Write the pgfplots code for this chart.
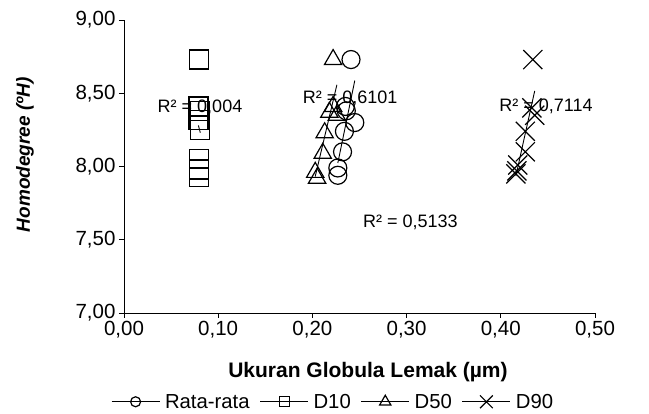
\documentclass[border=0pt]{standalone}
\usepackage{fontspec}
\setmainfont{Liberation Sans}
\usepackage{pgfplots}
\usepackage{pgfplotstable}
\pgfplotsset{compat=1.18}

\pgfplotsset{
  myleg/.style={legend image code/.code={%
    \draw[black, line width=0.9pt] (0pt,0pt) -- (48pt,0pt);
    \path[##1, mark size=#1] plot coordinates {(24pt,0pt)};}}
}

\pgfplotstableread{
x y
0.241 8.73
0.236 8.38
0.235 8.41
0.245 8.30
0.234 8.24
0.232 8.10
0.227 7.99
0.227 7.94
}\rata

\pgfplotstableread{
x y
0.080 8.73
0.079 8.41
0.081 8.38
0.079 8.32
0.081 8.25
0.080 8.05
0.080 7.98
0.080 7.93
}\dsepuluh

\pgfplotstableread{
x y
0.222 8.73
0.222 8.41
0.218 8.37
0.226 8.35
0.213 8.23
0.211 8.09
0.203 7.96
0.205 7.92
}\dlimapuluh

\pgfplotstableread{
x y
0.434 8.73
0.433 8.40
0.436 8.35
0.426 8.24
0.426 8.10
0.418 8.01
0.417 7.97
0.416 7.95
}\dsembilanpuluh

\newcommand{\fs}{\fontsize{18}{21}\selectfont}
\newcommand{\ft}{\fontsize{20.5}{24}\selectfont}
\newcommand{\fl}{\fontsize{21}{25}\selectfont}
\newcommand{\fg}{\fontsize{20.3}{24}\selectfont}
\newcommand{\fy}{\fontsize{19}{23}\selectfont}

\begin{document}
\begin{tikzpicture}
\begin{axis}[
  at={(0,0)}, anchor=south west,
  scale only axis,
  width=471pt, height=293pt,
  xmin=0, xmax=0.5, ymin=7, ymax=9,
  xtick={0,0.1,0.2,0.3,0.4,0.5},
  ytick={7,7.5,8,8.5,9},
  axis x line*=bottom, axis y line*=left,
  xtick pos=left, ytick pos=left,
  tick align=outside,
  major tick length=5pt,
  axis line style={black, line width=0.9pt},
  every tick/.style={black, line width=0.9pt},
  /pgf/number format/assume math mode=true,
  xticklabel style={font=\ft, /pgf/number format/.cd, fixed, fixed zerofill, precision=2, use comma},
  yticklabel style={font=\ft, /pgf/number format/.cd, fixed, fixed zerofill, precision=2, use comma},
  scaled x ticks=false, scaled y ticks=false,
  xlabel={\bfseries Ukuran Globula Lemak (µm)},
  xlabel style={font=\fl, at={(axis description cs:0.518,-0.201)}, anchor=center},
  ylabel={\bfseries\itshape Homodegree (ºH)},
  ylabel style={font=\fy, at={(axis description cs:-0.21,0.54)}, anchor=center},
  legend columns=4,
  legend style={draw=none, fill=none, font=\fg, at={(axis description cs:0.444,-0.303)}, anchor=center,
    /tikz/every odd column/.append style={column sep=3pt},
    /tikz/every even column/.append style={column sep=8pt}},
  legend cell align=left,
]
\addplot[only marks, mark=o, mark size=9pt, mark options={draw=black, fill=none, line width=1.2pt}, myleg=5pt]
  table {\rata};
\addlegendentry{Rata-rata}
\addplot[only marks, mark=square, mark size=9.5pt, mark options={draw=black, fill=none, line width=1.2pt}, myleg=5pt]
  table {\dsepuluh};
\addlegendentry{D10}
\addplot[only marks, mark=triangle, mark size=10pt, mark options={draw=black, fill=none, line width=1.2pt}, myleg=6.5pt]
  table {\dlimapuluh};
\addlegendentry{D50}
\addplot[only marks, mark=x, mark size=13.5pt, mark options={draw=black, line width=1.2pt}, myleg=9pt]
  table {\dsembilanpuluh};
\addlegendentry{D90}

\addplot[forget plot, no marks, black, line width=0.9pt] table[x=x, y={create col/linear regression={y=y}}] {\rata};
\addplot[forget plot, no marks, black, line width=0.9pt] table[x=x, y={create col/linear regression={y=y}}] {\dsepuluh};
\addplot[forget plot, no marks, black, line width=0.9pt] table[x=x, y={create col/linear regression={y=y}}] {\dlimapuluh};
\addplot[forget plot, no marks, black, line width=0.9pt] table[x=x, y={create col/linear regression={y=y}}] {\dsembilanpuluh};

\node[font=\fs, anchor=center] at (axis cs:0.0807,8.406) {R² = 0,004};
\node[font=\fs, anchor=center] at (axis cs:0.240,8.468) {R² = 0,6101};
\node[font=\fs, anchor=center] at (axis cs:0.448,8.413) {R² = 0,7114};
\node[font=\fs, anchor=center] at (axis cs:0.304,7.621) {R² = 0,5133};
\end{axis}
\pgfresetboundingbox
\path (-124pt,-101pt) rectangle (525pt,313pt);
\end{tikzpicture}
\end{document}
